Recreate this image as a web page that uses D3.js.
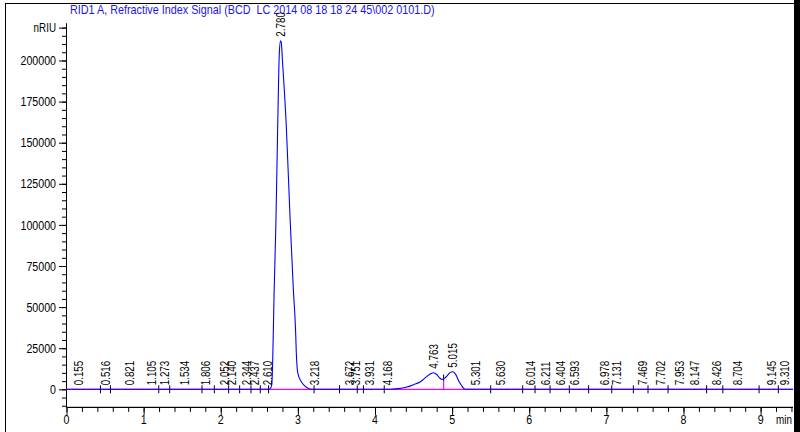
<!DOCTYPE html>
<html>
<head>
<meta charset="utf-8">
<script src="https://cdn.jsdelivr.net/npm/d3@7"></script>
<style>
  html, body { margin: 0; padding: 0; background: #fff; }
  svg { display: block; }
  text { font-family: "Liberation Sans", Arial, sans-serif; }
</style>
</head>
<body>
<svg id="chart" width="800" height="432"></svg>
<script>
// ---- data ----
const titleText = "RID1 A, Refractive Index Signal (BCD  LC 2014 08 18 18 24 45\\002 0101.D)";
const yUnit = "nRIU";
const xUnit = "min";

// detector trace (time in min, signal in nRIU)
const traceTime = [0, 2.60, 2.64, 2.66, 2.672, 2.69, 2.716, 2.74, 2.76, 2.775, 2.785, 2.80, 2.85, 2.90, 2.94, 2.97, 2.98, 3.00, 3.04, 3.07, 3.12, 3.18, 4.20, 4.30, 4.40, 4.50, 4.59, 4.67, 4.72, 4.76, 4.80, 4.84, 4.87, 4.92, 4.97, 5.01, 5.05, 5.08, 5.12, 5.15, 5.18, 9.42];
const traceSignal = [0, 0, 300, 2500, 14000, 55000, 103000, 164000, 205000, 212000, 211000, 200000, 160000, 103000, 62000, 36000, 22000, 9700, 5000, 3000, 1000, 0, 0, 400, 1200, 2800, 4600, 7700, 9500, 10100, 9000, 6800, 6000, 7500, 10000, 10700, 8800, 5700, 2500, 600, 0, 0];

// integrated peaks: retention time label and apex height
const peakLabels = ["0.155", "0.516", "0.821", "1.105", "1.273", "1.534", "1.806", "2.052", "2.140", "2.344", "2.437", "2.610", "2.780", "3.218", "3.672", "3.751", "3.931", "4.168", "4.763", "5.015", "5.301", "5.630", "6.014", "6.211", "6.404", "6.593", "6.978", "7.131", "7.469", "7.702", "7.953", "8.147", "8.426", "8.704", "9.145", "9.310"];
const peakHeights = [0, 0, 0, 0, 0, 0, 0, 0, 0, 0, 0, 0, 212000, 0, 0, 0, 0, 0, 10100, 10700, 0, 0, 0, 0, 0, 0, 0, 0, 0, 0, 0, 0, 0, 0, 0, 0];

// baseline event marks (min)
const baselineEvents = [0.44, 0.57, 1.196, 1.338, 1.757, 1.917, 2.102, 2.245, 2.392, 2.513, 2.62, 3.21, 3.54, 3.77, 3.85, 4.12, 5.50, 5.915, 6.075, 6.27, 6.52, 6.77, 7.07, 7.35, 7.54, 7.80, 8.30, 8.51, 8.98, 9.23];
// valley drop line between 4.763 and 5.015
const dropTime = [4.89];
const dropHeight = [6000];

const xTickValues = [0, 1, 2, 3, 4, 5, 6, 7, 8, 9];
const yTickValues = [0, 25000, 50000, 75000, 100000, 125000, 150000, 175000, 200000];

// ---- drawing ----
const svg = d3.select("#chart");
const x = d3.scaleLinear().domain([0, 9.42]).range([66.5, 793]);
const y = d3.scaleLinear().domain([-11000, 222500]).range([407.4, 23.5]);
const NARROW = 0.82;

// frame
svg.append("line").attr("x1", 5.5).attr("x2", 5.5).attr("y1", 3).attr("y2", 432).attr("stroke", "#000");
svg.append("line").attr("x1", 5).attr("x2", 794).attr("y1", 3.5).attr("y2", 3.5).attr("stroke", "#000");
svg.append("rect").attr("x", 794).attr("y", 0).attr("width", 6).attr("height", 432).attr("fill", "#000");

// title
svg.append("text").attr("transform", "translate(70,13.5) scale(0.9,1)").attr("fill", "#1a14ee")
  .style("font-size", "12px").style("white-space", "pre").text(titleText);

// y axis
const yAxisG = svg.append("g").attr("transform", "translate(66.5,0)");
yAxisG.call(d3.axisLeft(y).tickValues(d3.range(-10000, 220001, 5000)).tickSize(4.5).tickFormat(""));
yAxisG.append("g").call(d3.axisLeft(y).tickValues(yTickValues.concat([220000])).tickSize(7.5).tickFormat(""));
yAxisG.selectAll("path.domain").attr("d", `M0,${y(-11000)}V${y(222500)}`).attr("stroke", "#000");
svg.selectAll("text.ylab").data(yTickValues).join("text").attr("class", "ylab")
  .attr("transform", d => `translate(56,${y(d)}) scale(${NARROW},1)`)
  .attr("dy", "0.36em").attr("text-anchor", "end").style("font-size", "13px")
  .text(d => d3.format("d")(d));
svg.append("text").attr("transform", `translate(56,${y(220000)}) scale(${NARROW},1)`)
  .attr("dy", "0.36em").attr("text-anchor", "end").style("font-size", "12px").text(yUnit);

// x axis
const xAxisG = svg.append("g").attr("transform", `translate(0,${y(-11000)})`);
xAxisG.call(d3.axisBottom(x).tickValues(d3.range(0, 9.41, 0.2)).tickSize(4.5).tickFormat(""));
xAxisG.append("g").call(d3.axisBottom(x).tickValues(xTickValues).tickSize(7.5).tickFormat(""));
xAxisG.selectAll("path.domain").attr("d", `M${x(0)},0H${x(9.42)}`).attr("stroke", "#000");
svg.selectAll("text.xlab").data(xTickValues).join("text").attr("class", "xlab")
  .attr("transform", d => `translate(${x(d)},424) scale(${NARROW},1)`)
  .attr("text-anchor", "middle").style("font-size", "13px")
  .text(d => d);
svg.append("text").attr("transform", `translate(784,424) scale(${NARROW},1)`).attr("text-anchor", "middle")
  .style("font-size", "12px").text(xUnit);

// baseline
svg.append("line").attr("x1", x(0)).attr("x2", x(9.42)).attr("y1", y(0)).attr("y2", y(0))
  .attr("stroke", "#ff00ff").attr("stroke-width", 1.2);

// drop line
svg.selectAll("line.drop").data(dropTime).join("line").attr("class", "drop")
  .attr("x1", d => x(d)).attr("x2", d => x(d))
  .attr("y1", y(0)).attr("y2", (d, i) => y(dropHeight[i]))
  .attr("stroke", "#ff00ff").attr("stroke-width", 1.2);
svg.selectAll("line.droptick").data(dropTime).join("line").attr("class", "droptick")
  .attr("x1", d => x(d)).attr("x2", d => x(d))
  .attr("y1", (d, i) => y(dropHeight[i]) - 5).attr("y2", (d, i) => y(dropHeight[i]) + 1)
  .attr("stroke", "#000");

// baseline event ticks
svg.selectAll("line.evt").data(baselineEvents).join("line").attr("class", "evt")
  .attr("x1", d => x(d)).attr("x2", d => x(d))
  .attr("y1", y(0) - 4).attr("y2", y(0) + 4)
  .attr("stroke", "#000");

// trace
const pts = traceTime.map((t, i) => [t, traceSignal[i]]);
svg.append("path").datum(pts)
  .attr("d", d3.line().x(d => x(d[0])).y(d => y(d[1])).curve(d3.curveMonotoneX))
  .attr("fill", "none").attr("stroke", "#0000ff").attr("stroke-width", 1.1);

// peak labels
svg.selectAll("text.pk").data(peakLabels).join("text").attr("class", "pk")
  .attr("transform", (d, i) => `translate(${x(+d)},${y(peakHeights[i]) - 4}) rotate(-90) scale(${NARROW},1)`)
  .attr("dy", "0.35em")
  .style("font-size", "12px").attr("fill", "#000")
  .text(d => d);
</script>
</body>
</html>
